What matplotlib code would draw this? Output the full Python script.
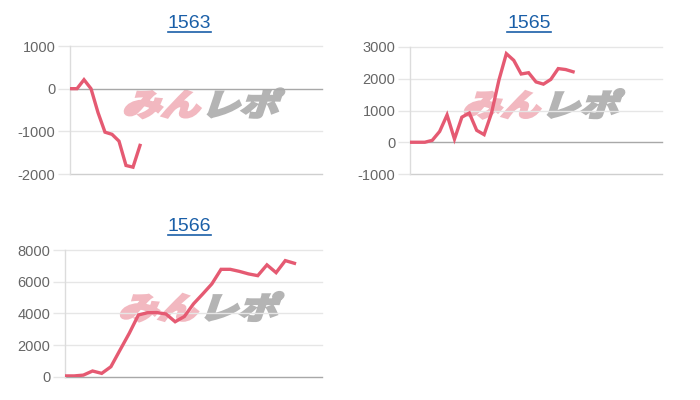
import matplotlib
matplotlib.use("Agg")
import matplotlib.pyplot as plt
import numpy as np
from matplotlib.textpath import TextPath
from matplotlib.font_manager import FontProperties
from matplotlib.patches import PathPatch
from matplotlib.transforms import Affine2D
from matplotlib.lines import Line2D

plt.rcParams['font.family'] = ['Liberation Sans', 'DejaVu Sans']

# ---- data ----
titles = ["1563", "1565", "1566"]
vals_1563 = [0, 0, 210, 0, -560, -1020, -1070, -1230, -1800, -1840, -1330]
vals_1565 = [0, 0, 0, 60, 340, 860, 100, 790, 920, 375, 240, 920, 1960, 2790,
             2580, 2150, 2190, 1900, 1830, 1980, 2320, 2290, 2220]
vals_1566 = [50, 50, 100, 360, 210, 630, 1690, 2740, 3900, 4040, 4050, 3960,
             3470, 3800, 4600, 5220, 5860, 6780, 6780, 6650, 6490, 6380, 7060,
             6570, 7330, 7160]
series = [vals_1563, vals_1565, vals_1566]
yticks = [[-2000, -1000, 0, 1000], [-1000, 0, 1000, 2000, 3000],
          [0, 2000, 4000, 6000, 8000]]
xslots = [36, 34, 28]

LINE = '#e55a72'
GRID = '#e6e6e6'
ZERO = '#a8a8a8'
BOTTOM = '#cfcfcf'

fig = plt.figure(figsize=(7, 4), dpi=100)
W, H = 700, 400
boxes = [(70, 46, 322, 174), (410, 47, 662, 174), (65, 250, 322, 376.7)]
title_x = [189.5, 529, 189.5]
title_y = [23, 23, 226.5]

fp_wm = FontProperties(family='Noto Sans CJK JP', weight='bold')

def add_watermark(ax):
    x0, x1, y0, y1 = 0.21, 0.865, 0.44, 0.665
    bb = ax.get_position()
    px0 = (bb.x0 + x0 * bb.width) * W
    px1 = (bb.x0 + x1 * bb.width) * W
    py0 = (bb.y0 + y0 * bb.height) * H
    py1 = (bb.y0 + y1 * bb.height) * H
    full = TextPath((0, 0), "みんレポ", size=100, prop=fp_wm)
    ext = full.get_extents()
    part1 = TextPath((0, 0), "みん", size=100, prop=fp_wm)
    adv = part1.get_extents().x1 + 8
    part2 = TextPath((adv, 0), "レポ", size=100, prop=fp_wm)
    tw = (ext.x1 - ext.x0) + 12 + 0.27 * (ext.y1 - ext.y0)
    sx = (px1 - px0) / tw
    sy = (py1 - py0) / (ext.y1 - ext.y0)
    tr = (Affine2D().translate(-ext.x0, -ext.y0).skew_deg(15, 0)
          .scale(sx, sy).translate(px0, py0))
    for p, c in [(part1, '#f2b8c0'), (part2, '#b4b4b4')]:
        patch = PathPatch(p, facecolor=c, edgecolor=c, linewidth=2.2,
                          joinstyle='miter', transform=tr, zorder=0.5)
        fig.add_artist(patch)

for i, (vals, yt, ns) in enumerate(zip(series, yticks, xslots)):
    l, t, r, b = boxes[i]
    ax = fig.add_axes([l / W, 1 - b / H, (r - l) / W, (b - t) / H])
    ax.set_facecolor('none')
    x = np.arange(len(vals))
    ax.plot(x, vals, color=LINE, lw=2.4, solid_joinstyle='miter', zorder=3)
    ax.set_xlim(0, ns)
    ax.set_ylim(yt[0], yt[-1])
    ax.set_yticks(yt)
    ax.set_yticklabels([str(v) for v in yt])
    ax.set_xticks([])
    for v in yt:
        if v == 0:
            c = ZERO
        elif v == yt[0]:
            c = BOTTOM
        else:
            c = GRID
        ax.axhline(v, color=c, lw=1.0, zorder=1, clip_on=False)
    for s in ['top', 'right', 'bottom']:
        ax.spines[s].set_visible(False)
    ax.spines['left'].set_color('#dcdcdc')
    ax.spines['left'].set_linewidth(1.0)
    ax.tick_params(axis='y', length=9, width=1.0, color=GRID, pad=1.5,
                   labelsize=10.5, labelcolor='#666666')
    for tl, v in zip(ax.yaxis.get_major_ticks(), yt):
        if v == 0:
            tl.tick1line.set_color(ZERO)
    ax.set_zorder(2)
    add_watermark(ax)
    txt = fig.text(title_x[i] / W, 1 - title_y[i] / H, titles[i],
                   ha='center', va='center', fontsize=14, color='#1a5fa8')
    fig.canvas.draw()
    ex = txt.get_window_extent()
    uy = 1 - (title_y[i] + 8.7) / H
    fig.add_artist(Line2D([ex.x0 / W, ex.x1 / W], [uy, uy],
                          transform=fig.transFigure, color='#1a5fa8', lw=1.2))

fig.savefig('out.png', dpi=100)
